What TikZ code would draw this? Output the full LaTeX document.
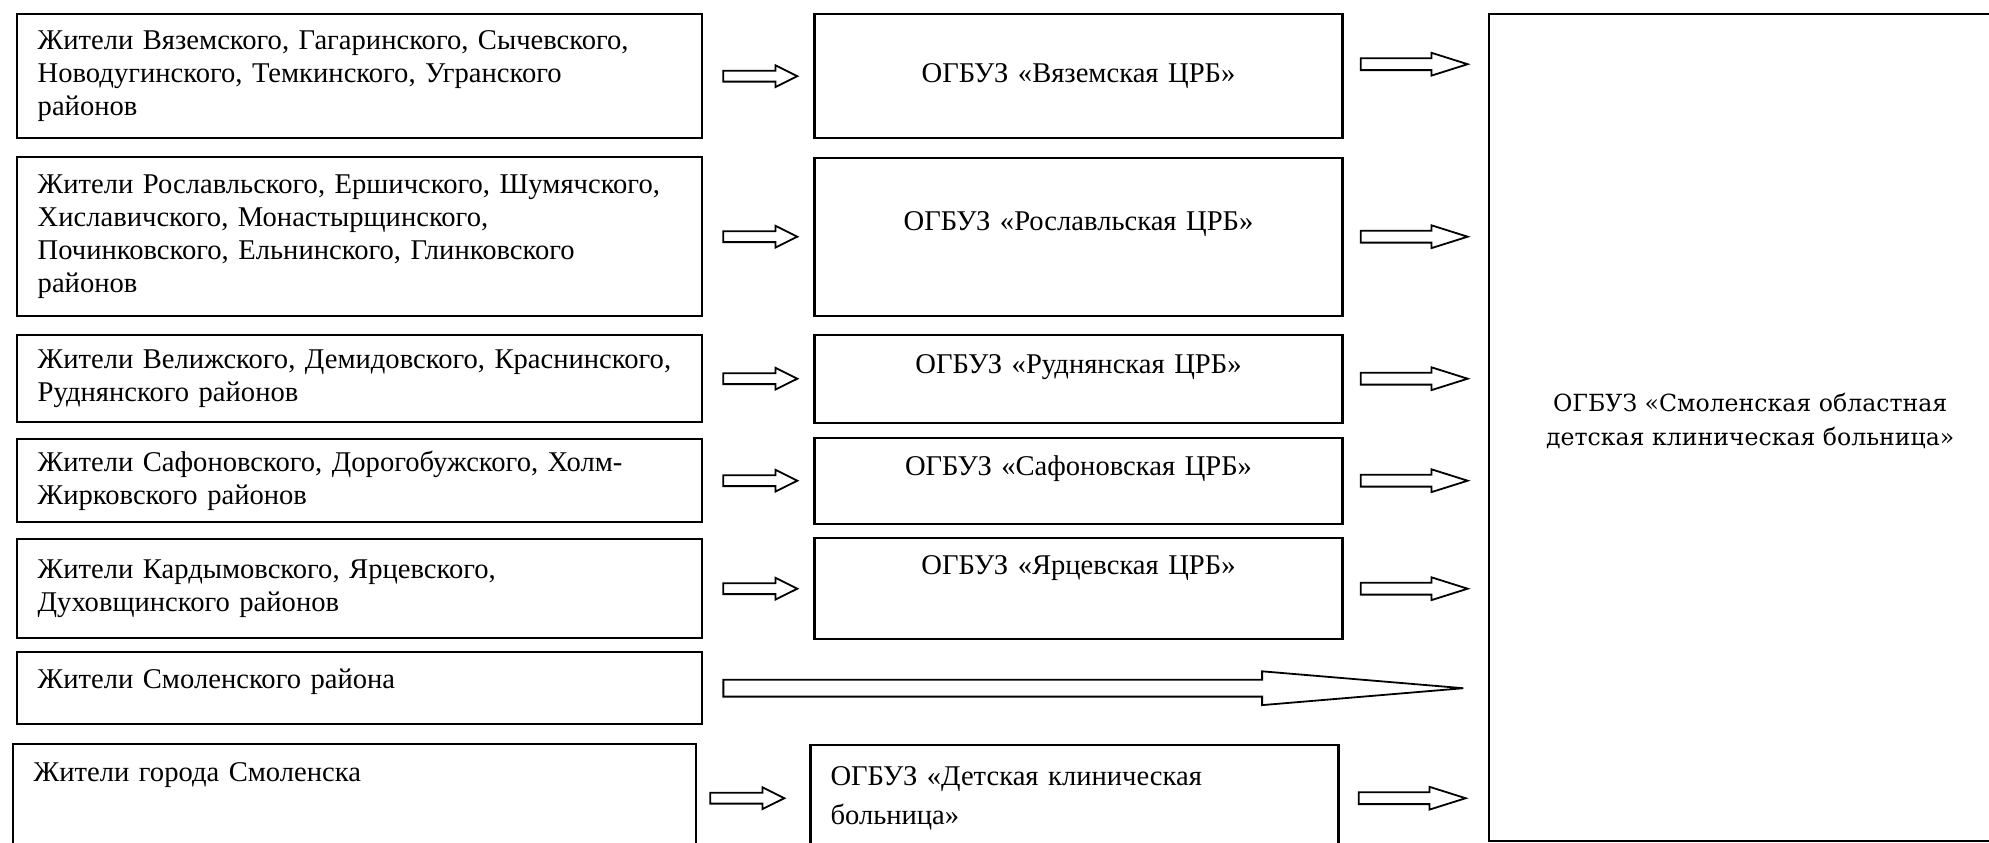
\documentclass[tikz,border=0pt]{standalone}
\usepackage{fontspec}
\setmainfont{Liberation Serif}
\newfontfamily\obfont{DejaVu Serif}
\usetikzlibrary{positioning,shapes.arrows}
\tikzset{
  rb/.style={rectangle, draw=black, line width=1.2pt, text width=322pt, inner xsep=10.25pt, align=left, font=\fontsize{14.3pt}{16.5pt}\selectfont},
  hb/.style={rectangle, draw=black, line width=1.2pt, text width=244pt, inner xsep=10pt, align=center, font=\fontsize{14.3pt}{16.5pt}\selectfont},
  ob/.style={rectangle, draw=black, line width=1.2pt, minimum width=261pt, minimum height=413.5pt, align=center, font=\obfont\fontsize{11.8pt}{17pt}\selectfont},
  ar/.style={single arrow, draw=black, line width=0.9pt, inner xsep=0pt, inner ysep=2.25pt, single arrow head extend=2.75pt, minimum height=37pt, single arrow tip angle=53},
  arr/.style={ar, minimum height=53.5pt, inner ysep=2.5pt, single arrow tip angle=35},
  arl/.style={ar, minimum height=370pt, inner ysep=3.75pt, single arrow head extend=4.25pt, single arrow tip angle=9.6},
  node distance=9.5pt
}
\begin{document}
\begin{tikzpicture}[x=0.5pt, y=-0.5pt]
\useasboundingbox (0,0) rectangle (1989,842);
% districts
\node[rb, anchor=north west, minimum height=62pt] (r1) at (16,13) {Жители Вяземского, Гагаринского, Сычевского,\\ Новодугинского, Темкинского, Угранского\\ районов};
\node[rb, anchor=north west, minimum height=79.5pt] (r2) at (16,156) {Жители Рославльского, Ершичского, Шумячского,\\ Хиславичского, Монастырщинского,\\ Починковского, Ельнинского, Глинковского\\ районов};
\node[rb, anchor=north west, minimum height=43.5pt] (r3) at (16,334) {Жители Велижского, Демидовского, Краснинского,\\ Руднянского районов};
\node[rb, anchor=north west, minimum height=41.5pt] (r4) at (16,438) {Жители Сафоновского, Дорогобужского, Холм-\\ Жирковского районов};
\node[rb, anchor=north west, minimum height=49.5pt] (r5) at (16,538) {Жители Кардымовского, Ярцевского,\\ Духовщинского районов};
\node[rb, anchor=north west, minimum height=36pt, text height=10pt, text depth=10pt] (r6) at (16,651) {Жители Смоленского района};
\node[rb, anchor=north west, minimum height=54pt, text height=10pt, text depth=27pt, text width=321pt] (r7) at (12,743) {Жители города Смоленска};
% oblast hospital
\node[ob, anchor=north west, text depth=8.5pt] (okb) at (1488,13) {ОГБУЗ «Смоленская областная\\ детская клиническая больница»};
% central district hospitals
\node[ar, right=of r1] (a1) {};
\node[hb, right=7pt of a1, minimum height=62pt] (h1) {ОГБУЗ «Вяземская ЦРБ»};
\node[arr, right=8pt of h1, yshift=6pt] (b1) {};
\node[ar, right=of r2] (a2) {};
\node[hb, right=7pt of a2, minimum height=79pt, text height=10pt, text depth=16pt] (h2) {ОГБУЗ «Рославльская ЦРБ»};
\node[arr, right=8pt of h2] (b2) {};
\node[ar, right=of r3] (a3) {};
\node[hb, right=7pt of a3, minimum height=44pt, text height=10pt, text depth=15pt] (h3) {ОГБУЗ «Руднянская ЦРБ»};
\node[arr, right=8pt of h3] (b3) {};
\node[ar, right=of r4] (a4) {};
\node[hb, right=7pt of a4, minimum height=43pt, text height=10pt, text depth=15pt] (h4) {ОГБУЗ «Сафоновская ЦРБ»};
\node[arr, right=8pt of h4] (b4) {};
\node[ar, right=of r5] (a5) {};
\node[hb, right=7pt of a5, minimum height=50.5pt, text height=10pt, text depth=24pt] (h5) {ОГБУЗ «Ярцевская ЦРБ»};
\node[arr, right=8pt of h5] (b5) {};
\node[arl, right=of r6] (a6) {};
\node[ar, right=6pt of r7] (a7) {};
\node[hb, right=11.5pt of a7, minimum height=53pt, align=left] (h7) {ОГБУЗ «Детская клиническая\\[3pt] больница»};
\node[arr, right=9pt of h7] (b7) {};
\end{tikzpicture}
\end{document}
